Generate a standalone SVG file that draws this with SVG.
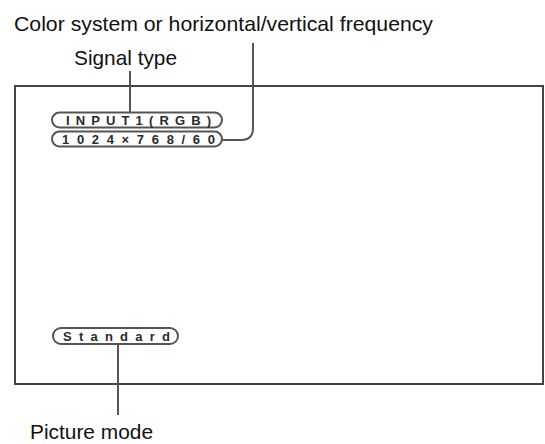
<svg xmlns="http://www.w3.org/2000/svg" width="545" height="444" viewBox="0 0 545 444">
<style>
.lbl{font-family:"Liberation Sans",Arial,sans-serif;font-size:21px;fill:#111}
.pt{font-family:"Liberation Sans",Arial,sans-serif;font-size:13px;font-weight:bold;fill:#2a2a2a}
.pill{fill:#fff;stroke:#555;stroke-width:2}
.conn{fill:none;stroke:#555;stroke-width:2}
</style>
<rect width="545" height="444" fill="#fff"/>
<g id="screen"><rect x="15" y="86" width="528" height="298" fill="none" stroke="#444" stroke-width="2"/></g>
<g id="connectors">
<path class="conn" d="M130 71 V112.5"/>
<path class="conn" d="M253 43 V128 Q253 140 241 140 H222"/>
<path class="conn" d="M118 344 V415"/>
</g>
<g id="pill-input"><rect class="pill" x="52" y="112.5" width="170" height="15" rx="7.5"/><text class="pt" x="66" y="124.7" textLength="145" lengthAdjust="spacing">INPUT1(RGB)</text></g>
<g id="pill-freq"><rect class="pill" x="52" y="131.5" width="170" height="15" rx="7.5"/><text class="pt" x="62" y="143.7" textLength="153" lengthAdjust="spacing">1024×768/60</text></g>
<g id="pill-mode"><rect class="pill" x="53" y="328" width="125" height="16" rx="8"/><text class="pt" x="63" y="340.7" textLength="107" lengthAdjust="spacing">Standard</text></g>
<g id="label-color"><text class="lbl" x="14" y="31" textLength="419" lengthAdjust="spacingAndGlyphs">Color system or horizontal/vertical frequency</text></g>
<g id="label-signal"><text class="lbl" x="74" y="65" textLength="103" lengthAdjust="spacingAndGlyphs">Signal type</text></g>
<g id="label-picture"><text class="lbl" x="30" y="439" textLength="123" lengthAdjust="spacingAndGlyphs">Picture mode</text></g>
</svg>
